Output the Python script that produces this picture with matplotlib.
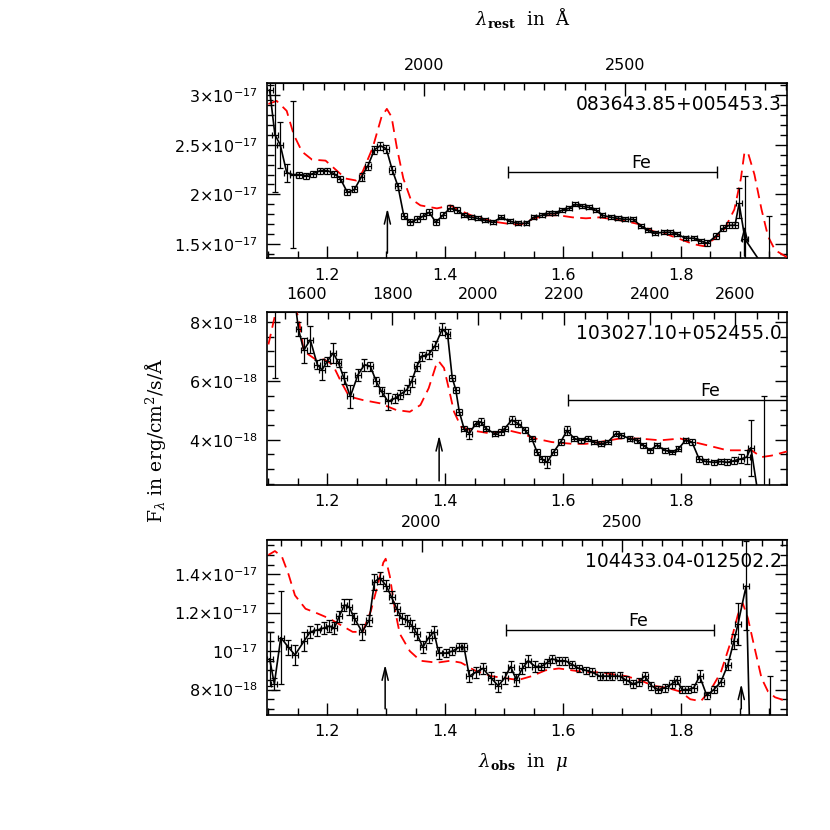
import numpy as np
import matplotlib
matplotlib.use('Agg')
from matplotlib import pyplot as plt
from matplotlib.ticker import FixedLocator, MultipleLocator, FuncFormatter

# quasars, redshifts and rest-frame lines
names = ['083643.85+005453.3', '103027.10+052455.0', '104433.04-012502.2']
redshifts = [5.82, 6.28, 5.80]
line_rest = [1909.0, 2798.0]          # C III], Mg II (Angstrom)
fe_rest = [2210.0, 2730.0]            # Fe II band
fe_label_rest = 2540.0
bin_half = 0.005                      # half bin width in micron

# panel 1 (units of 1e-17)
obs_a = [1.102, 1.111, 1.120, 1.131, 1.141, 1.152, 1.164, 1.176, 1.188, 1.200,
         1.211, 1.222, 1.234, 1.246, 1.258, 1.269, 1.280, 1.290, 1.300, 1.310,
         1.320, 1.330, 1.341, 1.352, 1.362, 1.373, 1.384, 1.396, 1.408, 1.420,
         1.432, 1.444, 1.455, 1.467, 1.481, 1.495, 1.510, 1.524, 1.538, 1.550,
         1.564, 1.576, 1.587, 1.598, 1.610, 1.621, 1.633, 1.644, 1.656, 1.667,
         1.682, 1.693, 1.705, 1.719, 1.733, 1.745, 1.756, 1.771, 1.782, 1.794,
         1.808, 1.822, 1.834, 1.845, 1.859, 1.872, 1.882, 1.892, 1.899, 1.909,
         1.949]
flux_a = [3.05, 2.60, 2.50, 2.22, 2.20, 2.20, 2.19, 2.21, 2.24, 2.24,
          2.21, 2.16, 2.02, 2.05, 2.18, 2.29, 2.45, 2.49, 2.46, 2.25,
          2.08, 1.78, 1.72, 1.75, 1.78, 1.82, 1.72, 1.79, 1.86, 1.84,
          1.79, 1.77, 1.76, 1.74, 1.72, 1.77, 1.73, 1.71, 1.71, 1.77,
          1.79, 1.81, 1.81, 1.84, 1.86, 1.90, 1.88, 1.87, 1.84, 1.79,
          1.77, 1.76, 1.75, 1.75, 1.68, 1.64, 1.61, 1.62, 1.62, 1.60,
          1.56, 1.56, 1.53, 1.51, 1.58, 1.66, 1.69, 1.69, 1.91, 1.55,
          1.20]
err_a = [0.10, 0.58, 0.23, 0.09, 0.74, 0.03, 0.03, 0.03, 0.03, 0.03,
         0.03, 0.03, 0.03, 0.03, 0.04, 0.04, 0.04, 0.04, 0.04, 0.04,
         0.04, 0.03, 0.03, 0.03, 0.03, 0.03, 0.03, 0.03, 0.03, 0.03,
         0.02, 0.02, 0.02, 0.02, 0.02, 0.02, 0.02, 0.02, 0.02, 0.02,
         0.02, 0.02, 0.02, 0.02, 0.02, 0.02, 0.02, 0.02, 0.02, 0.02,
         0.02, 0.02, 0.02, 0.02, 0.02, 0.02, 0.02, 0.02, 0.02, 0.02,
         0.02, 0.02, 0.02, 0.03, 0.03, 0.03, 0.03, 0.03, 0.15, 0.64,
         0.58]
model_obs_a = [1.100, 1.114, 1.131, 1.143, 1.157, 1.174, 1.197, 1.214, 1.231, 1.249,
               1.260, 1.277, 1.292, 1.301, 1.309, 1.318, 1.329, 1.341, 1.358, 1.386,
               1.409, 1.421, 1.444, 1.467, 1.490, 1.513, 1.530, 1.547, 1.570, 1.593,
               1.616, 1.639, 1.662, 1.685, 1.707, 1.730, 1.753, 1.776, 1.799, 1.822,
               1.839, 1.856, 1.874, 1.891, 1.902, 1.908, 1.914, 1.925, 1.937, 1.948,
               1.960, 1.980]
model_a = [2.91, 2.94, 2.84, 2.60, 2.43, 2.35, 2.34, 2.25, 2.16, 2.14,
           2.23, 2.47, 2.78, 2.86, 2.78, 2.47, 2.16, 1.96, 1.89, 1.86,
           1.89, 1.85, 1.79, 1.75, 1.72, 1.70, 1.70, 1.75, 1.79, 1.79,
           1.77, 1.76, 1.77, 1.75, 1.73, 1.70, 1.63, 1.60, 1.55, 1.50,
           1.48, 1.55, 1.65, 1.85, 2.16, 2.42, 2.42, 2.20, 1.85, 1.58,
           1.44, 1.37]

# panel 2 (units of 1e-18)
obs_b = [1.111, 1.140, 1.151, 1.160, 1.171, 1.183, 1.191, 1.200, 1.210, 1.219,
         1.228, 1.239, 1.252, 1.263, 1.273, 1.283, 1.292, 1.303, 1.315, 1.323,
         1.335, 1.343, 1.352, 1.360, 1.372, 1.383, 1.395, 1.404, 1.412, 1.418,
         1.424, 1.432, 1.441, 1.452, 1.461, 1.469, 1.484, 1.495, 1.501, 1.513,
         1.524, 1.536, 1.547, 1.556, 1.564, 1.573, 1.584, 1.596, 1.607, 1.619,
         1.630, 1.642, 1.653, 1.665, 1.676, 1.690, 1.699, 1.713, 1.725, 1.736,
         1.748, 1.759, 1.773, 1.785, 1.796, 1.808, 1.819, 1.831, 1.842, 1.857,
         1.868, 1.879, 1.891, 1.902, 1.912, 1.919, 1.930, 1.941]
flux_b = [9.0, 9.5, 7.76, 7.04, 7.40, 6.55, 6.38, 6.67, 6.95, 6.61,
          6.10, 5.47, 6.21, 6.55, 6.50, 5.98, 5.64, 5.30, 5.41, 5.53,
          5.70, 5.98, 6.50, 6.84, 6.90, 7.20, 7.76, 7.60, 6.10, 5.70,
          4.95, 4.38, 4.21, 4.55, 4.61, 4.38, 4.21, 4.27, 4.38, 4.67,
          4.55, 4.32, 4.04, 3.58, 3.35, 3.23, 3.58, 3.92, 4.32, 4.04,
          3.98, 4.04, 3.92, 3.86, 3.92, 4.21, 4.15, 4.04, 3.98, 3.81,
          3.64, 3.81, 3.64, 3.58, 3.69, 3.98, 3.92, 3.35, 3.26, 3.23,
          3.26, 3.23, 3.29, 3.35, 3.41, 3.73, 2.30, 2.20]
err_b = [2.9, 0.4, 0.25, 0.43, 0.45, 0.15, 0.35, 0.15, 0.35, 0.15,
         0.2, 0.4, 0.2, 0.2, 0.15, 0.15, 0.15, 0.3, 0.15, 0.15,
         0.15, 0.2, 0.15, 0.15, 0.15, 0.15, 0.2, 0.15, 0.1, 0.1,
         0.1, 0.1, 0.2, 0.1, 0.12, 0.1, 0.1, 0.1, 0.1, 0.12,
         0.12, 0.1, 0.1, 0.1, 0.1, 0.2, 0.1, 0.1, 0.15, 0.08,
         0.08, 0.08, 0.08, 0.08, 0.08, 0.1, 0.08, 0.08, 0.08, 0.08,
         0.08, 0.08, 0.08, 0.08, 0.08, 0.08, 0.1, 0.1, 0.1, 0.08,
         0.1, 0.1, 0.12, 0.15, 0.25, 0.95, 0.1, 3.3]
model_obs_b = [1.100, 1.111, 1.125, 1.151, 1.160, 1.180, 1.194, 1.209, 1.223, 1.237,
               1.260, 1.289, 1.317, 1.340, 1.358, 1.372, 1.384, 1.389, 1.398, 1.406,
               1.415, 1.427, 1.444, 1.478, 1.507, 1.530, 1.553, 1.581, 1.616, 1.639,
               1.662, 1.696, 1.730, 1.765, 1.799, 1.822, 1.845, 1.879, 1.902, 1.920,
               1.937, 1.954, 1.980]
model_b = [7.24, 8.22, 9.6, 8.16, 7.01, 6.73, 6.73, 6.56, 5.98, 5.47,
           5.35, 5.24, 5.01, 4.95, 5.18, 5.75, 6.50, 6.67, 6.44, 5.75,
           4.95, 4.44, 4.32, 4.21, 4.32, 4.21, 4.04, 3.92, 3.86, 3.86,
           3.92, 4.04, 4.04, 3.98, 4.04, 3.92, 3.81, 3.64, 3.64, 3.64,
           3.41, 3.46, 3.60]

# panel 3 (units of 1e-17)
obs_c = [1.102, 1.110, 1.121, 1.134, 1.145, 1.160, 1.171, 1.183, 1.194, 1.203,
         1.212, 1.220, 1.229, 1.237, 1.246, 1.259, 1.271, 1.280, 1.289, 1.300,
         1.309, 1.318, 1.326, 1.336, 1.344, 1.352, 1.362, 1.372, 1.381, 1.389,
         1.401, 1.412, 1.424, 1.432, 1.441, 1.452, 1.464, 1.478, 1.490, 1.501,
         1.511, 1.521, 1.531, 1.541, 1.553, 1.563, 1.573, 1.581, 1.593, 1.604,
         1.616, 1.627, 1.639, 1.650, 1.662, 1.673, 1.684, 1.696, 1.707, 1.719,
         1.729, 1.739, 1.750, 1.762, 1.773, 1.785, 1.793, 1.802, 1.812, 1.822,
         1.832, 1.844, 1.856, 1.868, 1.880, 1.890, 1.897, 1.911, 1.918, 1.951]
flux_c = [0.96, 0.83, 1.07, 1.02, 0.98, 1.05, 1.10, 1.11, 1.12, 1.13,
          1.12, 1.18, 1.24, 1.23, 1.17, 1.10, 1.16, 1.36, 1.38, 1.34,
          1.28, 1.22, 1.17, 1.16, 1.13, 1.09, 1.02, 1.07, 1.10, 0.99,
          0.99, 1.00, 1.02, 1.02, 0.87, 0.89, 0.91, 0.86, 0.82, 0.86,
          0.92, 0.85, 0.91, 0.95, 0.92, 0.92, 0.94, 0.96, 0.95, 0.95,
          0.93, 0.91, 0.90, 0.89, 0.87, 0.87, 0.87, 0.87, 0.85, 0.83,
          0.84, 0.87, 0.82, 0.80, 0.81, 0.83, 0.85, 0.80, 0.80, 0.81,
          0.87, 0.77, 0.80, 0.84, 0.93, 1.05, 1.14, 1.34, 0.45, 0.55]
err_c = [0.14, 0.03, 0.24, 0.04, 0.05, 0.05, 0.03, 0.03, 0.03, 0.03,
         0.03, 0.03, 0.03, 0.04, 0.03, 0.04, 0.03, 0.04, 0.03, 0.03,
         0.03, 0.03, 0.03, 0.03, 0.03, 0.03, 0.03, 0.03, 0.03, 0.03,
         0.02, 0.02, 0.02, 0.02, 0.03, 0.03, 0.03, 0.03, 0.03, 0.03,
         0.03, 0.03, 0.03, 0.03, 0.03, 0.02, 0.02, 0.02, 0.02, 0.02,
         0.02, 0.02, 0.02, 0.02, 0.02, 0.02, 0.02, 0.02, 0.02, 0.02,
         0.02, 0.02, 0.02, 0.02, 0.02, 0.02, 0.02, 0.02, 0.02, 0.02,
         0.03, 0.02, 0.02, 0.02, 0.03, 0.04, 0.11, 0.23, 0.05, 0.32]
model_obs_c = [1.100, 1.111, 1.123, 1.134, 1.145, 1.163, 1.180, 1.203, 1.226, 1.243,
               1.260, 1.274, 1.286, 1.295, 1.299, 1.306, 1.315, 1.323, 1.340, 1.358,
               1.386, 1.409, 1.427, 1.450, 1.478, 1.501, 1.524, 1.547, 1.570, 1.593,
               1.616, 1.639, 1.662, 1.684, 1.707, 1.730, 1.753, 1.776, 1.799, 1.816,
               1.834, 1.851, 1.868, 1.885, 1.897, 1.905, 1.914, 1.925, 1.937, 1.948,
               1.960, 1.980]
model_c = [1.50, 1.52, 1.49, 1.40, 1.29, 1.22, 1.20, 1.17, 1.13, 1.10,
           1.10, 1.21, 1.35, 1.46, 1.48, 1.39, 1.21, 1.09, 1.00, 0.95,
           0.94, 0.95, 0.94, 0.90, 0.87, 0.86, 0.85, 0.87, 0.90, 0.91,
           0.90, 0.89, 0.89, 0.88, 0.87, 0.85, 0.82, 0.81, 0.79, 0.75,
           0.74, 0.80, 0.89, 1.05, 1.19, 1.25, 1.17, 1.02, 0.86, 0.79,
           0.76, 0.74]

# arrow (base, tip) levels per line and Fe bar level
units = [1e-17, 1e-18, 1e-17]
arrows = [[(1.41, 1.86), (1.38, 1.69)], [(2.6, 4.15), None], [(0.70, 0.93), (0.70, 0.83)]]
fe_level = [2.23, 5.35, 1.11]
ylims = [(1.36, 3.12), (2.47, 8.34), (0.67, 1.58)]
yticks = [[1.5, 2.0, 2.5, 3.0], [4.0, 6.0, 8.0], [0.8, 1.0, 1.2, 1.4]]
yminor = [0.1, 0.5, 0.05]
rest_ticks = [[2000, 2500], [1600, 1800, 2000, 2200, 2400, 2600], [2000, 2500]]

panels = [(obs_a, flux_a, err_a, model_obs_a, model_a),
          (obs_b, flux_b, err_b, model_obs_b, model_b),
          (obs_c, flux_c, err_c, model_obs_c, model_c)]

XLIM = (1.098, 1.98)


def sci_label(v, pos):
    if v <= 0:
        return ''
    e = int(np.floor(np.log10(v) + 1e-9))
    m = round(v / 10 ** e, 2)
    if abs(m - 1) < 1e-6:
        return r'10$^{%d}$' % e
    return r'%g×10$^{%d}$' % (m, e)


def draw_panel(ax, i):
    obs, flux, err, mobs, mflux = panels[i]
    u = units[i]
    z = redshifts[i]
    ax.plot(mobs, np.array(mflux) * u, color='red', lw=1.3, dashes=(6, 3.5), zorder=3)
    ax.errorbar(obs, np.array(flux) * u, yerr=np.array(err) * u, xerr=bin_half,
                color='black', lw=1.2, elinewidth=0.9, capsize=2.5, capthick=0.9, zorder=4)

    # Fe band bar
    lo, hi = fe_rest[0] * (1 + z) / 1e4, fe_rest[1] * (1 + z) / 1e4
    ax.errorbar([(lo + hi) / 2], [fe_level[i] * u], xerr=[(hi - lo) / 2],
                color='black', lw=1.0, capsize=4, capthick=1.0)
    ax.text(fe_label_rest * (1 + z) / 1e4, fe_level[i] * u, 'Fe', ha='center', va='bottom',
            fontsize=12.5)

    # emission line arrows
    for lam, arr in zip(line_rest, arrows[i]):
        if arr is None:
            continue
        x = lam * (1 + z) / 1e4
        ax.annotate('', xy=(x, arr[1] * u), xytext=(x, arr[0] * u),
                    arrowprops=dict(arrowstyle='->,head_length=0.9,head_width=0.22',
                                    lw=1.1, color='black', shrinkA=0, shrinkB=0))

    ax.text(0.99, 0.93, names[i], transform=ax.transAxes, ha='right', va='top', fontsize=13.5)

    ax.set_xlim(*XLIM)
    ax.set_ylim(ylims[i][0] * u, ylims[i][1] * u)
    ax.xaxis.set_major_locator(FixedLocator([1.2, 1.4, 1.6, 1.8]))
    ax.xaxis.set_minor_locator(MultipleLocator(0.05))
    ax.yaxis.set_major_locator(FixedLocator([t * u for t in yticks[i]]))
    ax.yaxis.set_minor_locator(MultipleLocator(yminor[i] * u))
    ax.yaxis.set_major_formatter(FuncFormatter(sci_label))
    ax.tick_params(which='both', direction='in', top=False, right=True, labelsize=11.5, pad=7)
    ax.tick_params(which='major', length=9, width=1.0)
    ax.tick_params(which='minor', length=5, width=1.0)

    sec = ax.secondary_xaxis('top', functions=(lambda x, z=z: x * 1e4 / (1 + z),
                                               lambda r, z=z: r * (1 + z) / 1e4))
    sec.xaxis.set_major_locator(FixedLocator(rest_ticks[i]))
    sec.xaxis.set_minor_locator(MultipleLocator(50))
    sec.tick_params(which='both', direction='in', labelsize=11.5, pad=7)
    sec.tick_params(which='major', length=9, width=1.0)
    sec.tick_params(which='minor', length=5, width=1.0)
    for s in ax.spines.values():
        s.set_linewidth(1.2)


fig = plt.figure(figsize=(8.3, 8.3), dpi=100)
boxes = [[0.322, 0.689, 0.626, 0.211],
         [0.322, 0.416, 0.626, 0.208],
         [0.322, 0.139, 0.626, 0.211]]
for i, b in enumerate(boxes):
    ax = fig.add_axes(b)
    draw_panel(ax, i)

fig.text(0.63, 0.978, r'$\lambda_{\mathbf{rest}}$  in  Å', ha='center', va='center',
         fontsize=13, family='DejaVu Serif', math_fontfamily='dejavuserif')
fig.text(0.63, 0.082, r'$\lambda_{\mathbf{obs}}$  in  $\mu$', ha='center', va='center',
         fontsize=13, family='DejaVu Serif', math_fontfamily='dejavuserif')
fig.text(0.187, 0.47, r'F$_\lambda$ in erg/cm$^2$/s/Å', ha='center', va='center',
         rotation=90, fontsize=13.5, family='DejaVu Serif', math_fontfamily='dejavuserif')

fig.savefig('out.png', dpi=100)
